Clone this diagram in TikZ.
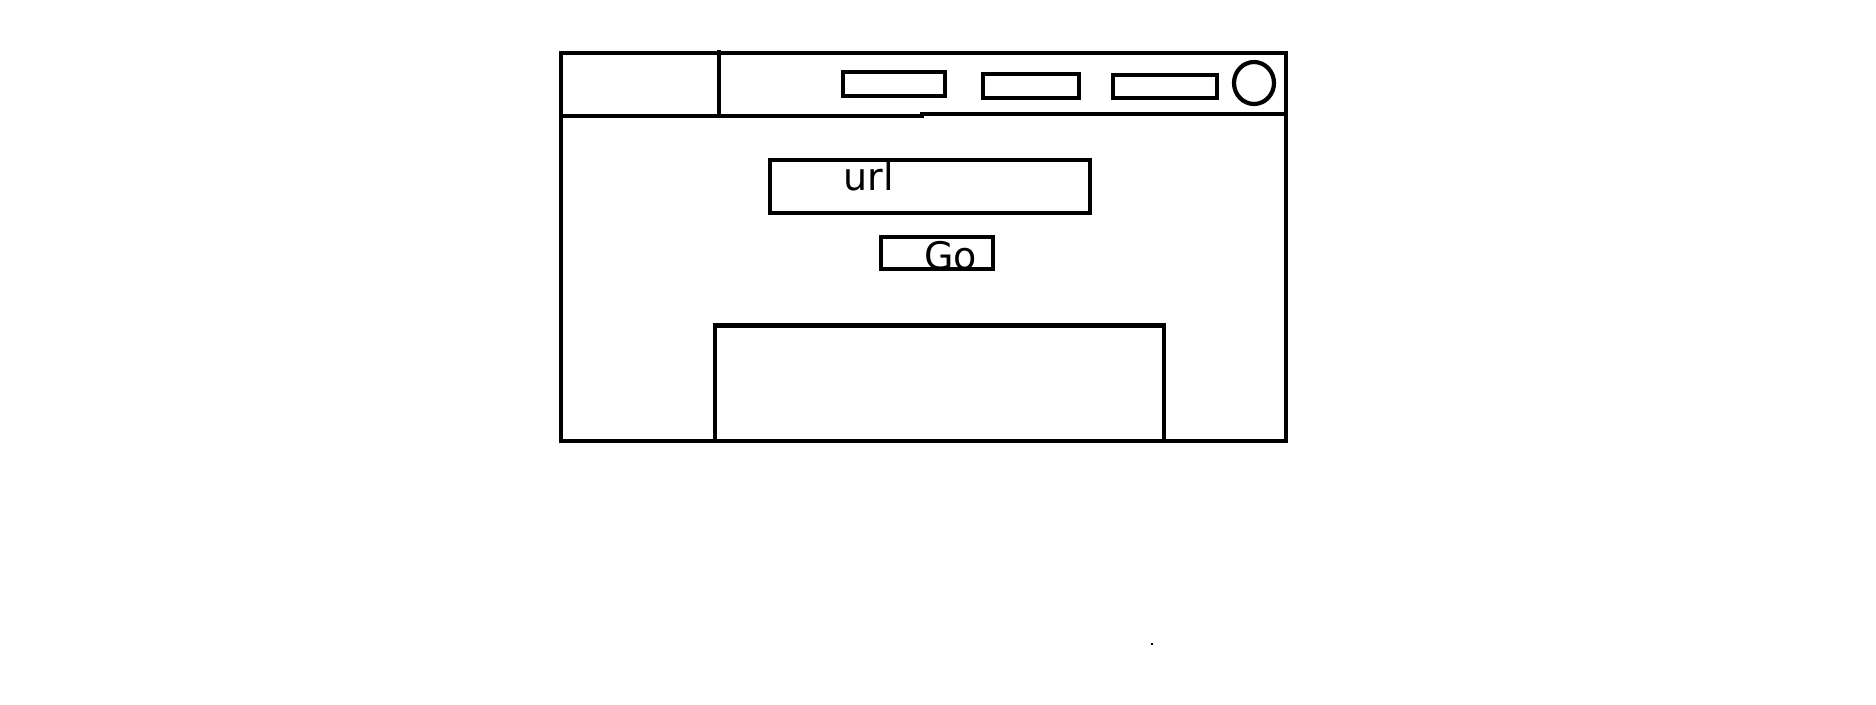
\documentclass[tikz,border=0pt]{standalone}
\usepackage{fontspec}
\setmainfont{DejaVu Sans}
\usetikzlibrary{positioning}

\begin{document}
\begin{tikzpicture}[
  x=0.5pt, y=-0.5pt,
  frame/.style={draw=black, line width=2.1pt},
  lbl/.style={font=\fontsize{19}{22}\selectfont, inner sep=0pt, anchor=base west},
]
\useasboundingbox (0,0) rectangle (1876,705);

% === Window frame ===
\coordinate (wintl) at (561,53);
\coordinate (winbr) at (1286,441);
\draw[frame] (wintl) rectangle (winbr);

% === Title bar ===
\coordinate (barl) at (561,116);
\coordinate (barm) at (922,116);
\coordinate (barr) at (1286,114);
\draw[frame] (barl) -- (barm) -- (922,114) -- (barr);
\coordinate (divtop) at (719,50);
\coordinate (divbot) at (719,118);
\draw[frame] (divtop) -- (divbot);

% === Tabs ===
\draw[frame] (843,72) rectangle (945,96);
\draw[frame] (983,74) rectangle (1079,98);
\draw[frame] (1113,75) rectangle (1217,98);
\coordinate (close) at (1254,83);
\draw[frame] (close) ellipse [x radius=20, y radius=21];

% === Address field ===
\draw[frame] (770,160) rectangle (1090,213);
\node[lbl] (url) at (843.5,191) {url};

% === Go button ===
\draw[frame] (881,237) rectangle (993,269);
\node[lbl] (go) at (924,270) {Go};

% === Content pane ===
\draw[frame] (715,441) -- (715,325.5) -- (1164,325.5) -- (1164,441);

% stray dot
\fill (1151,643.5) rectangle ++(2,2);

\end{tikzpicture}
\end{document}
